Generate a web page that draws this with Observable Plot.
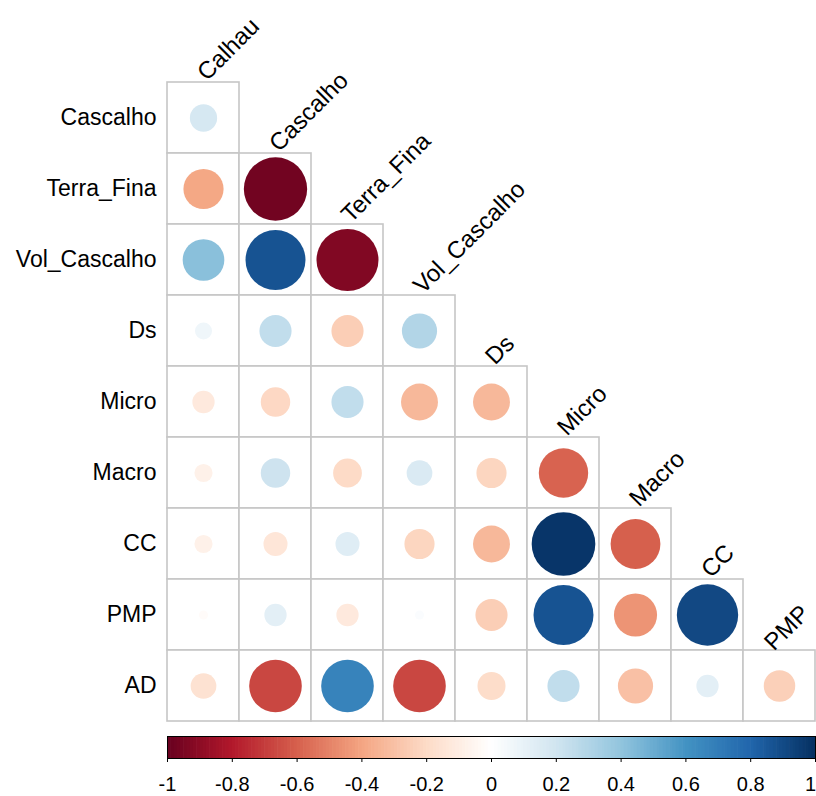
<!DOCTYPE html>
<html>
<head>
<meta charset="utf-8">
<script src="https://cdn.jsdelivr.net/npm/d3@7"></script>
<script src="https://cdn.jsdelivr.net/npm/@observablehq/plot@0.6"></script>
<style>
  html, body { margin: 0; padding: 0; background: #fff; }
  #chart svg { display: block; }
</style>
</head>
<body>
<div id="chart"></div>
<script>
// Variables (columns across the top, rows down the left side)
const cols = ["Calhau", "Cascalho", "Terra_Fina", "Vol_Cascalho", "Ds", "Micro", "Macro", "CC", "PMP"];
const rows = ["Cascalho", "Terra_Fina", "Vol_Cascalho", "Ds", "Micro", "Macro", "CC", "PMP", "AD"];

// Lower-triangle correlation coefficients, one array per row
const rCascalho    = [0.18];
const rTerraFina   = [-0.39, -0.97];
const rVolCascalho = [0.42, 0.87, -0.93];
const rDs          = [0.07, 0.25, -0.25, 0.30];
const rMicro       = [-0.12, -0.21, 0.25, -0.33, -0.33];
const rMacro       = [-0.08, 0.21, -0.20, 0.16, -0.22, -0.59];
const rCC          = [-0.08, -0.14, 0.14, -0.22, -0.33, 0.98, -0.60];
const rPMP         = [-0.02, 0.12, -0.12, 0.02, -0.25, 0.87, -0.45, 0.91];
const rAD          = [-0.16, -0.67, 0.67, -0.67, -0.19, 0.25, -0.30, 0.12, -0.24];

// Colour bar tick values
const barTicks = [-1, -0.8, -0.6, -0.4, -0.2, 0, 0.2, 0.4, 0.6, 0.8, 1];

// RdBu palette stops (dark red to dark blue)
const paletteStops = [-1, -0.8, -0.6, -0.4, -0.2, 0, 0.2, 0.4, 0.6, 0.8, 1];
const paletteColors = ["#67001F", "#B2182B", "#D6604D", "#F4A582", "#FDDBC7", "#FFFFFF",
                       "#D1E5F0", "#92C5DE", "#4393C3", "#2166AC", "#053061"];

const rowValues = [rCascalho, rTerraFina, rVolCascalho, rDs, rMicro, rMacro, rCC, rPMP, rAD];
const cells = rows.flatMap((row, i) =>
  cols.slice(0, i + 1).map((col, j) => ({row, col, value: rowValues[i][j]}))
);

const colorScale = {type: "linear", domain: paletteStops, range: paletteColors, interpolate: "rgb"};
const font = "'Liberation Sans', Arial, Helvetica, sans-serif";

const W = 816;
const mainH = 730;
const mTop = 80, mBottom = 7, mLeft = 167, mRight = 1;
const bandH = (mainH - mTop - mBottom) / rows.length;
const bandW = (W - mLeft - mRight) / cols.length;

// Column headers sit diagonally above the top cell of each column
const headerOpts = (dx, dy) => ({
  x: d => d,
  y: d => rows[cols.indexOf(d)],
  text: d => d,
  rotate: -45,
  textAnchor: "start",
  dx,
  dy: -bandH / 2 + dy,
  fontSize: 24,
  fill: "#000"
});

const main = Plot.plot({
  width: W,
  height: mainH,
  marginTop: mTop,
  marginBottom: mBottom,
  marginLeft: mLeft,
  marginRight: mRight,
  x: {domain: cols, padding: 0, axis: null},
  y: {domain: rows, padding: 0, axis: null},
  color: colorScale,
  r: {type: "sqrt", domain: [0, 1], range: [0, 0.45 * Math.min(bandW, bandH)]},
  style: {fontFamily: font, fontSize: "23px", color: "#000", background: "#fff"},
  marks: [
    Plot.cell(cells, {x: "col", y: "row", fill: "#fff", stroke: "#c6c6c6", strokeWidth: 1.6, inset: 0}),
    Plot.dot(cells, {x: "col", y: "row", r: d => Math.abs(d.value), fill: "value"}),
    Plot.axisY({tickSize: 0, tickPadding: 11, fontSize: 23, label: null}),
    Plot.text(cols.slice(0, -1), headerOpts(-2, -6)),
    // the last header is pulled in so it stays inside the page
    Plot.text(cols.slice(-1), headerOpts(-11, -4))
  ]
});

// Colour bar strip
const steps = d3.range(-1, 1, 0.01);
const innerTicks = barTicks.slice(0, -1);
const lastTick = barTicks.slice(-1);
const bar = Plot.plot({
  width: W,
  height: 66,
  marginTop: 6,
  marginBottom: 38,
  marginLeft: mLeft,
  marginRight: mRight,
  x: {domain: [-1, 1]},
  y: {domain: [0, 1], axis: null},
  color: colorScale,
  style: {fontFamily: font, fontSize: "20px", color: "#000", background: "#fff"},
  marks: [
    Plot.rect(steps, {x1: d => d, x2: d => Math.min(1, d + 0.012), y1: 0, y2: 1, fill: d => d + 0.005}),
    Plot.frame({stroke: "#000", strokeWidth: 1}),
    Plot.axisX({ticks: barTicks, tickSize: 4, text: null, label: null, stroke: "#000"}),
    Plot.axisX({ticks: innerTicks, tickSize: 0, tickPadding: 18, tickFormat: d => String(d), fontSize: 20, label: null}),
    // the end label is pulled in so it stays inside the page
    Plot.axisX({ticks: lastTick, tickSize: 0, tickPadding: 18, tickFormat: d => String(d), fontSize: 20, label: null, dx: -5})
  ]
});

const root = document.getElementById("chart");
root.append(main, bar);
</script>
</body>
</html>
